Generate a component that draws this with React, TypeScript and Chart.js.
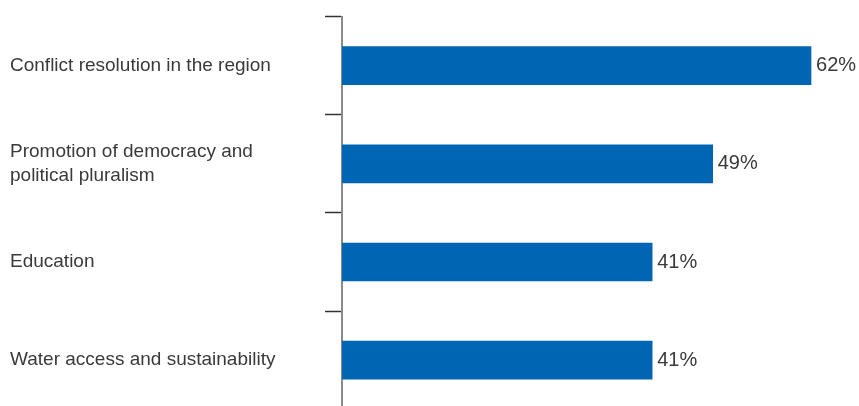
import React, { useEffect, useRef } from "react";
import { Chart, registerables } from "chart.js";

Chart.register(...registerables);

const categories: (string | string[])[] = [
  "Conflict resolution in the region",
  ["Promotion of democracy and", "political pluralism"],
  "Education",
  "Water access and sustainability",
];
const values: number[] = [62, 49, 41, 41];
const valueLabels: string[] = ["62%", "49%", "41%", "41%"];

const FONT = "'Liberation Sans', Arial, Helvetica, sans-serif";
const TEXT = "#3a3a3a";

const valueLabelPlugin = {
  id: "valueLabels",
  afterDatasetsDraw(chart: any) {
    const ctx = chart.ctx;
    const meta = chart.getDatasetMeta(0);
    ctx.save();
    ctx.font = `20px ${FONT}`;
    ctx.fillStyle = TEXT;
    ctx.textAlign = "left";
    ctx.textBaseline = "middle";
    meta.data.forEach((bar: any, i: number) => {
      ctx.fillText(valueLabels[i], bar.x + 5, bar.y);
    });
    ctx.restore();
  },
};

export default function App() {
  const ref = useRef<HTMLCanvasElement>(null);
  useEffect(() => {
    document.body.style.margin = "0";
    document.body.style.overflow = "hidden";
    document.documentElement.style.overflow = "hidden";
    const chart = new Chart(ref.current!, {
      type: "bar",
      data: {
        labels: categories,
        datasets: [
          {
            data: values,
            backgroundColor: "#0066b3",
            barThickness: 38,
          },
        ],
      },
      options: {
        indexAxis: "y",
        animation: false,
        responsive: true,
        maintainAspectRatio: false,
        layout: { padding: { left: 10, top: 16.5, right: 2.6, bottom: 0.7 } },
        plugins: { legend: { display: false }, tooltip: { enabled: false } },
        scales: {
          x: { display: false, min: 0, max: 68 },
          y: {
            offset: true,
            afterFit: (scale: any) => {
              scale.width = 332;
              scale.paddingTop = 0;
              scale.paddingBottom = 0;
            },
            border: { display: true, color: "#8a8a8a", width: 2 },
            grid: {
              offset: true,
              drawOnChartArea: false,
              drawTicks: true,
              tickLength: 17,
              tickColor: "#333333",
              tickWidth: 1.5,
            },
            ticks: {
              crossAlign: "far",
              color: TEXT,
              font: { family: FONT, size: 19, lineHeight: 24 / 19 },
            },
          },
        },
      },
      plugins: [valueLabelPlugin],
    });
    return () => chart.destroy();
  }, []);
  return (
    <div style={{ position: "relative", width: 859, height: 410 }}>
      <canvas ref={ref} />
    </div>
  );
}
